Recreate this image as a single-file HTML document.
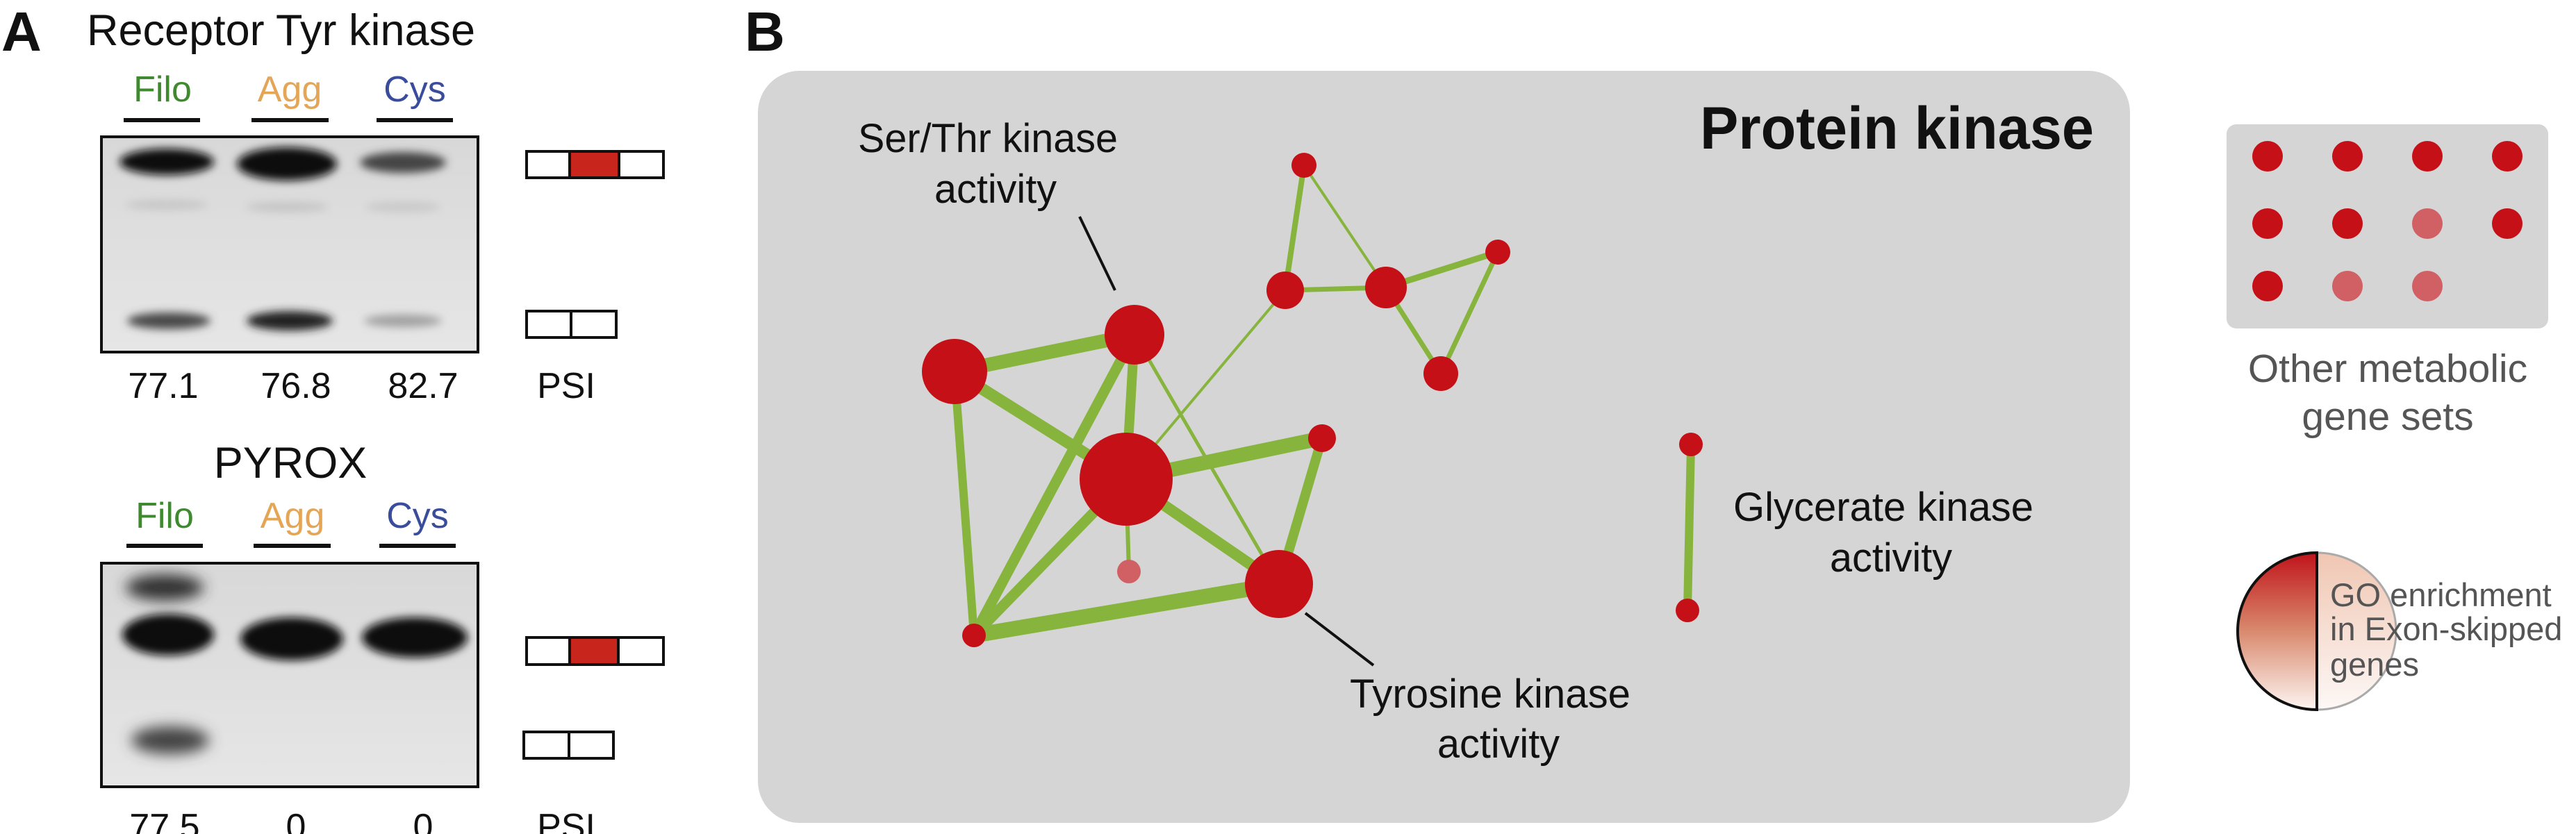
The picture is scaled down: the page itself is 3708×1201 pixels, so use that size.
<!DOCTYPE html>
<html><head><meta charset="utf-8"><style>
html,body{margin:0;padding:0;background:#fff}
svg{display:block}
.s{font-family:"Liberation Sans",sans-serif}
.n{font-family:"Liberation Sans Narrow","Liberation Sans",sans-serif}
</style></head><body>
<svg width="3708" height="1201" viewBox="0 0 3708 1201" xmlns="http://www.w3.org/2000/svg">
<defs>
<filter id="b" x="-50%" y="-100%" width="200%" height="300%"><feGaussianBlur stdDeviation="6"/></filter>
<filter id="b2" x="-50%" y="-100%" width="200%" height="300%"><feGaussianBlur stdDeviation="10"/></filter>
<linearGradient id="gel" x1="0" y1="0" x2="0" y2="1"><stop offset="0" stop-color="#d8d8d8"/><stop offset="1" stop-color="#e6e6e6"/></linearGradient>
<linearGradient id="lr" x1="0" y1="0" x2="0" y2="1"><stop offset="0" stop-color="#c0141a"/><stop offset="0.5" stop-color="#d98a6e"/><stop offset="1" stop-color="#fdf5f2"/></linearGradient>
<linearGradient id="rr" x1="0" y1="0" x2="0" y2="1"><stop offset="0" stop-color="#f0c6b2"/><stop offset="1" stop-color="#fdf8f6"/></linearGradient>
<clipPath id="c1"><rect x="146" y="197" width="542" height="310"/></clipPath>
<clipPath id="c2"><rect x="146" y="811" width="542" height="322"/></clipPath>
</defs>

<!-- Panel A -->
<text x="2" y="73" class="s" font-size="80" font-weight="bold" fill="#111">A</text>
<text x="125" y="65" class="s" font-size="63" fill="#111">Receptor Tyr kinase</text>
<g class="s" font-size="52" text-anchor="middle">
<text x="234" y="146" fill="#3f8a2e">Filo</text>
<text x="417" y="146" fill="#e5a556">Agg</text>
<text x="597" y="146" fill="#3a4d9c">Cys</text>
</g>
<g stroke="#111" stroke-width="6">
<line x1="178" y1="173" x2="288" y2="173"/><line x1="362" y1="173" x2="473" y2="173"/><line x1="542" y1="173" x2="652" y2="173"/>
</g>
<rect x="146" y="197" width="542" height="310" fill="url(#gel)"/>
<g clip-path="url(#c1)">
<ellipse cx="240" cy="233" rx="68" ry="19" fill="#111" filter="url(#b)"/>
<ellipse cx="413" cy="236" rx="72" ry="24" fill="#0c0c0c" filter="url(#b)"/>
<ellipse cx="580" cy="234" rx="62" ry="15" fill="#444" filter="url(#b)"/>
<ellipse cx="240" cy="295" rx="60" ry="7" fill="#c6c6c6" filter="url(#b)"/>
<ellipse cx="413" cy="298" rx="60" ry="7" fill="#c4c4c4" filter="url(#b)"/>
<ellipse cx="580" cy="298" rx="55" ry="7" fill="#c8c8c8" filter="url(#b)"/>
<ellipse cx="243" cy="462" rx="60" ry="12" fill="#4a4a4a" filter="url(#b)"/>
<ellipse cx="417" cy="462" rx="62" ry="14" fill="#222" filter="url(#b)"/>
<ellipse cx="580" cy="462" rx="56" ry="9" fill="#a0a0a0" filter="url(#b)"/>
</g>
<rect x="146" y="197" width="542" height="310" fill="none" stroke="#111" stroke-width="4"/>
<rect x="758" y="218" width="197" height="38" fill="#fff" stroke="#111" stroke-width="4"/>
<rect x="820" y="218" width="71" height="38" fill="#c8261c" stroke="#111" stroke-width="4"/>
<rect x="758" y="448" width="129" height="38" fill="#fff" stroke="#111" stroke-width="4"/>
<line x1="822" y1="448" x2="822" y2="486" stroke="#111" stroke-width="4"/>
<g class="s" font-size="52" fill="#111" text-anchor="middle">
<text x="235" y="573">77.1</text><text x="426" y="573">76.8</text><text x="609" y="573">82.7</text>
<text x="815" y="573">PSI</text>
<text x="418" y="688" font-size="63">PYROX</text>
</g>
<g class="s" font-size="52" text-anchor="middle">
<text x="237" y="760" fill="#3f8a2e">Filo</text>
<text x="421" y="760" fill="#e5a556">Agg</text>
<text x="601" y="760" fill="#3a4d9c">Cys</text>
</g>
<g stroke="#111" stroke-width="6">
<line x1="182" y1="786" x2="292" y2="786"/><line x1="365" y1="786" x2="476" y2="786"/><line x1="546" y1="786" x2="656" y2="786"/>
</g>
<rect x="146" y="811" width="542" height="322" fill="url(#gel)"/>
<g clip-path="url(#c2)">
<ellipse cx="237" cy="846" rx="56" ry="19" fill="#333" filter="url(#b2)"/>
<ellipse cx="242" cy="914" rx="66" ry="30" fill="#111" filter="url(#b)"/>
<ellipse cx="420" cy="920" rx="74" ry="31" fill="#111" filter="url(#b)"/>
<ellipse cx="597" cy="918" rx="76" ry="29" fill="#111" filter="url(#b)"/>
<ellipse cx="245" cy="1066" rx="56" ry="20" fill="#444" filter="url(#b2)"/>
</g>
<rect x="146" y="811" width="542" height="322" fill="none" stroke="#111" stroke-width="4"/>
<rect x="758" y="918" width="197" height="39" fill="#fff" stroke="#111" stroke-width="4"/>
<rect x="820" y="918" width="70" height="39" fill="#c8261c" stroke="#111" stroke-width="4"/>
<rect x="754" y="1054" width="129" height="38" fill="#fff" stroke="#111" stroke-width="4"/>
<line x1="819" y1="1054" x2="819" y2="1092" stroke="#111" stroke-width="4"/>
<g class="s" font-size="52" fill="#111" text-anchor="middle">
<text x="237" y="1208">77.5</text><text x="426" y="1208">0</text><text x="609" y="1208">0</text>
<text x="815" y="1208">PSI</text>
</g>

<!-- Panel B -->
<text x="1072" y="73" class="s" font-size="80" font-weight="bold" fill="#111">B</text>
<rect x="1091" y="102" width="1975" height="1083" rx="60" fill="#d6d5d6"/>
<text x="2447" y="214" class="n" font-size="86" font-weight="bold" fill="#111" textLength="567" lengthAdjust="spacingAndGlyphs">Protein kinase</text>

<g stroke="#86b43c" stroke-linecap="round">
<line x1="1374" y1="535" x2="1633" y2="482" stroke-width="20"/>
<line x1="1374" y1="535" x2="1621" y2="690" stroke-width="17"/>
<line x1="1374" y1="535" x2="1402" y2="915" stroke-width="12"/>
<line x1="1633" y1="482" x2="1621" y2="690" stroke-width="14"/>
<line x1="1633" y1="482" x2="1402" y2="915" stroke-width="15"/>
<line x1="1621" y1="690" x2="1402" y2="915" stroke-width="15"/>
<line x1="1633" y1="482" x2="1841" y2="841" stroke-width="5"/>
<line x1="1621" y1="690" x2="1903" y2="631" stroke-width="21"/>
<line x1="1621" y1="690" x2="1841" y2="841" stroke-width="16"/>
<line x1="1841" y1="841" x2="1402" y2="915" stroke-width="22"/>
<line x1="1841" y1="841" x2="1903" y2="631" stroke-width="14"/>
<line x1="1621" y1="690" x2="1625" y2="823" stroke-width="6"/>
<line x1="1621" y1="690" x2="1850" y2="418" stroke-width="4"/>
<line x1="1850" y1="418" x2="1877" y2="238" stroke-width="8"/>
<line x1="1877" y1="238" x2="1995" y2="414" stroke-width="4"/>
<line x1="1850" y1="418" x2="1995" y2="414" stroke-width="7"/>
<line x1="1995" y1="414" x2="2156" y2="363" stroke-width="9"/>
<line x1="2156" y1="363" x2="2074" y2="538" stroke-width="7"/>
<line x1="1995" y1="414" x2="2074" y2="538" stroke-width="7"/>
<line x1="2434" y1="640" x2="2429" y2="879" stroke-width="12"/>
</g>
<g fill="#c41016">
<circle cx="1374" cy="535" r="47"/>
<circle cx="1633" cy="482" r="43"/>
<circle cx="1621" cy="690" r="67"/>
<circle cx="1841" cy="841" r="49"/>
<circle cx="1402" cy="915" r="17"/>
<circle cx="1903" cy="631" r="20"/>
<circle cx="1877" cy="238" r="18"/>
<circle cx="1850" cy="418" r="27"/>
<circle cx="1995" cy="414" r="30"/>
<circle cx="2156" cy="363" r="18"/>
<circle cx="2074" cy="538" r="25"/>
<circle cx="2434" cy="640" r="17"/>
<circle cx="2429" cy="879" r="17"/>
</g>
<circle cx="1625" cy="823" r="17" fill="#d06064"/>
<g stroke="#111" stroke-width="4">
<line x1="1554" y1="312" x2="1605" y2="418"/>
<line x1="1879" y1="883" x2="1977" y2="958"/>
</g>
<g class="n" font-size="58" fill="#111">
<text x="1235" y="219" textLength="374" lengthAdjust="spacingAndGlyphs">Ser/Thr kinase</text>
<text x="1345" y="292" textLength="176" lengthAdjust="spacingAndGlyphs">activity</text>
<text x="1943" y="1019" textLength="404" lengthAdjust="spacingAndGlyphs">Tyrosine kinase</text>
<text x="2069" y="1091" textLength="176" lengthAdjust="spacingAndGlyphs">activity</text>
<text x="2495" y="750" textLength="432" lengthAdjust="spacingAndGlyphs">Glycerate kinase</text>
<text x="2634" y="823" textLength="176" lengthAdjust="spacingAndGlyphs">activity</text>
</g>

<!-- Right legend -->
<rect x="3205" y="179" width="463" height="294" rx="14" fill="#d6d5d6"/>
<g fill="#c41016">
<circle cx="3264" cy="225" r="22"/><circle cx="3379" cy="225" r="22"/><circle cx="3494" cy="225" r="22"/><circle cx="3609" cy="225" r="22"/>
<circle cx="3264" cy="322" r="22"/><circle cx="3379" cy="322" r="22"/><circle cx="3609" cy="322" r="22"/>
<circle cx="3264" cy="412" r="22"/>
</g>
<g fill="#d06064">
<circle cx="3494" cy="322" r="22"/><circle cx="3379" cy="412" r="22"/><circle cx="3494" cy="412" r="22"/>
</g>
<g class="s" font-size="57" fill="#555" text-anchor="middle">
<text x="3437" y="550">Other metabolic</text>
<text x="3437" y="619">gene sets</text>
</g>
<path d="M3335,796 A114,113 0 0 1 3335,1022 Z" fill="url(#rr)" stroke="#aaa" stroke-width="3"/>
<path d="M3335,796 A114,113 0 0 0 3335,1022 Z" fill="url(#lr)" stroke="#111" stroke-width="4"/>
<g class="s" font-size="47" fill="#555">
<text x="3354" y="873">GO enrichment</text>
<text x="3354" y="922">in Exon-skipped</text>
<text x="3354" y="973">genes</text>
</g>
</svg>
</body></html>
